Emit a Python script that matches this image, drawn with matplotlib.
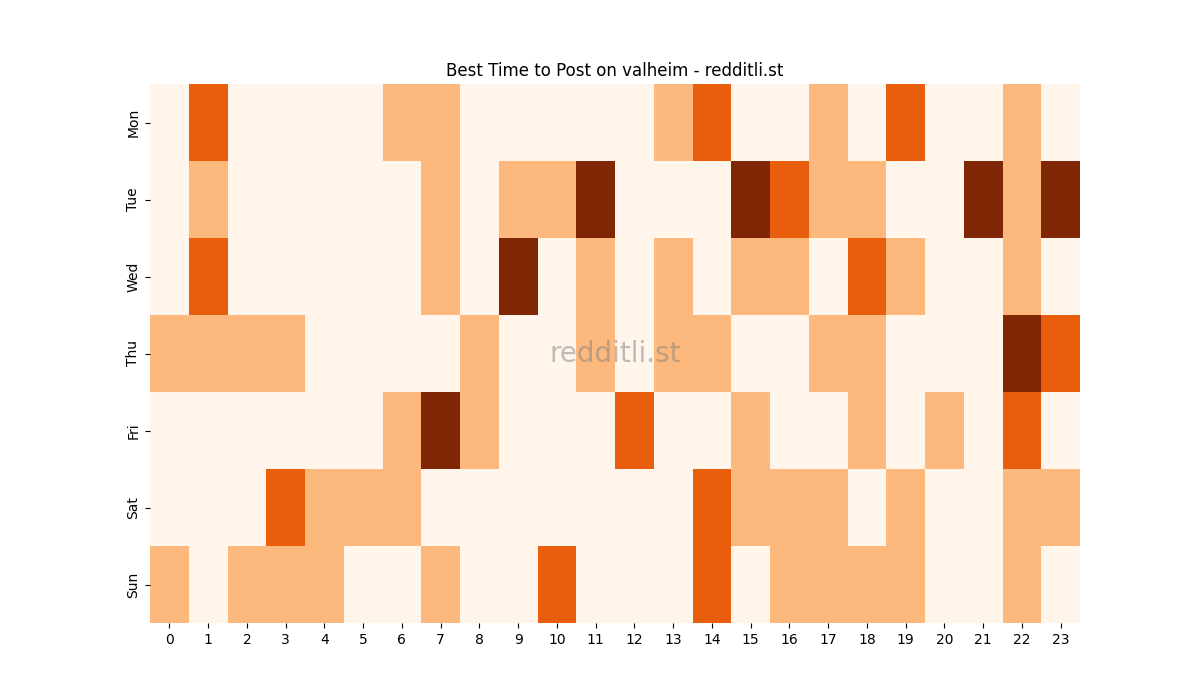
import numpy as np
import matplotlib
matplotlib.use("Agg")
import matplotlib.pyplot as plt
import seaborn as sns

days = ["Mon", "Tue", "Wed", "Thu", "Fri", "Sat", "Sun"]
hours = list(range(24))

# activity level per hour (0 = low ... 3 = high)
mon = [0, 2, 0, 0, 0, 0, 1, 1, 0, 0, 0, 0, 0, 1, 2, 0, 0, 1, 0, 2, 0, 0, 1, 0]
tue = [0, 1, 0, 0, 0, 0, 0, 1, 0, 1, 1, 3, 0, 0, 0, 3, 2, 1, 1, 0, 0, 3, 1, 3]
wed = [0, 2, 0, 0, 0, 0, 0, 1, 0, 3, 0, 1, 0, 1, 0, 1, 1, 0, 2, 1, 0, 0, 1, 0]
thu = [1, 1, 1, 1, 0, 0, 0, 0, 1, 0, 0, 1, 0, 1, 1, 0, 0, 1, 1, 0, 0, 0, 3, 2]
fri = [0, 0, 0, 0, 0, 0, 1, 3, 1, 0, 0, 0, 2, 0, 0, 1, 0, 0, 1, 0, 1, 0, 2, 0]
sat = [0, 0, 0, 2, 1, 1, 1, 0, 0, 0, 0, 0, 0, 0, 2, 1, 1, 1, 0, 1, 0, 0, 1, 1]
sun = [1, 0, 1, 1, 1, 0, 0, 1, 0, 0, 2, 0, 0, 0, 2, 0, 1, 1, 1, 1, 0, 0, 1, 0]

grid = np.array([mon, tue, wed, thu, fri, sat, sun])

fig, ax = plt.subplots(figsize=(12, 7), dpi=100)
sns.heatmap(grid, cmap="Oranges", cbar=False, ax=ax,
            xticklabels=hours, yticklabels=days)
ax.set_yticklabels(days, rotation=90, va="center")
ax.set_xticklabels(hours, rotation=0)
ax.set_title("Best Time to Post on valheim - redditli.st")

ax.text(0.5, 0.5, "redditli.st", transform=ax.transAxes,
        ha="center", va="center", fontsize=20, color="grey", alpha=0.5)

fig.savefig("out.png", dpi=100)
